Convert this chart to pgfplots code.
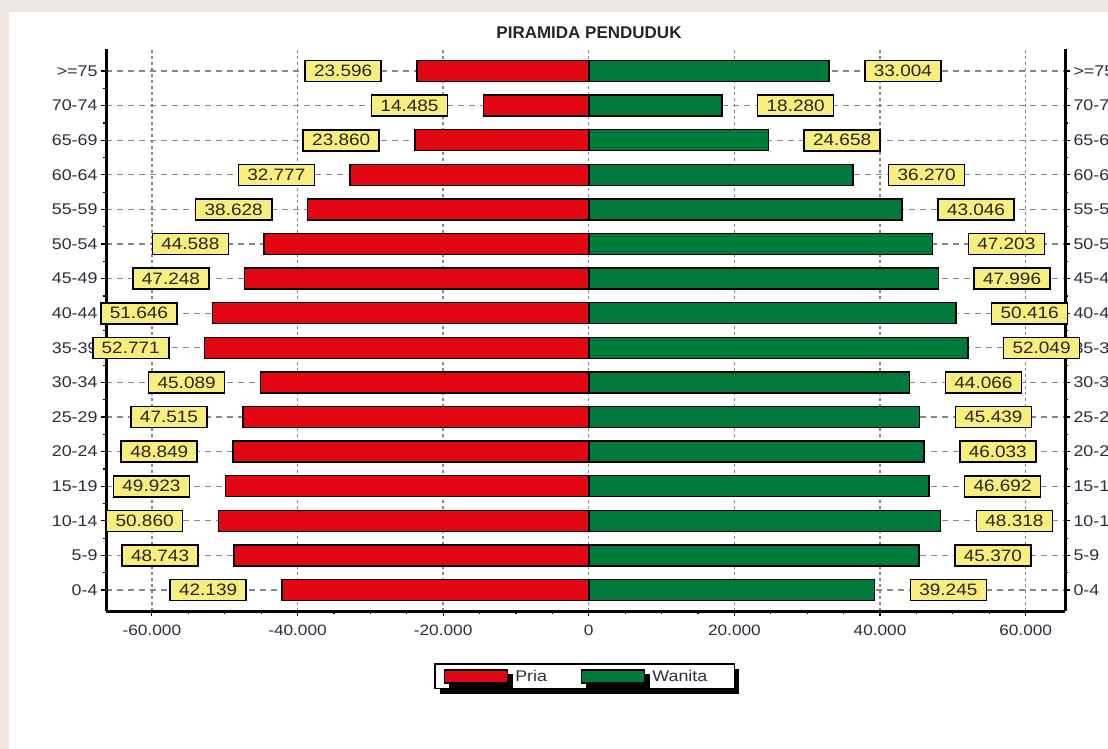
\documentclass[border=0pt]{standalone}
\usepackage{pgfplots}
\pgfplotsset{compat=1.18}
\usepackage{pgfplotstable}
\usepackage{fontspec}
\setmainfont{Liberation Sans}[FakeStretch=1.15]
\newfontfamily\titlefont{Liberation Sans}
\usetikzlibrary{shadows}
\definecolor{pria}{RGB}{227,6,19}
\definecolor{wanita}{RGB}{0,122,61}
\definecolor{boxy}{RGB}{248,238,126}
\definecolor{gridc}{RGB}{135,135,135}
\definecolor{txt}{RGB}{45,45,60}
\definecolor{bgc}{RGB}{236,232,225}

\pgfplotstableread{
y x lab
0 -42139 42.139
1 -48743 48.743
2 -50860 50.860
3 -49923 49.923
4 -48849 48.849
5 -47515 47.515
6 -45089 45.089
7 -52771 52.771
8 -51646 51.646
9 -47248 47.248
10 -44588 44.588
11 -38628 38.628
12 -32777 32.777
13 -23860 23.860
14 -14485 14.485
15 -23596 23.596
}\priatab

\pgfplotstableread{
y x lab
0 39245 39.245
1 45370 45.370
2 48318 48.318
3 46692 46.692
4 46033 46.033
5 45439 45.439
6 44066 44.066
7 52049 52.049
8 50416 50.416
9 47996 47.996
10 47203 47.203
11 43046 43.046
12 36270 36.270
13 24658 24.658
14 18280 18.280
15 33004 33.004
}\wanitatab

\pgfplotsset{
  base/.style={scale only axis, width=959pt, height=562pt,
    at={(106pt,-611pt)}, anchor=south west,
    xmin=-66300, xmax=65400, ymin=-0.607, ymax=15.636,
    scaled x ticks=false},
  ystuff/.style={ytick={0,...,15},
    yticklabels={0-4,5-9,10-14,15-19,20-24,25-29,30-34,35-39,40-44,45-49,50-54,55-59,60-64,65-69,70-74,>=75},
    minor y tick num=1, tick align=outside, major tick length=5pt, minor tick length=3pt,
    tick style={line width=1.2pt, black},
    axis line style={line width=3pt, black, -},
    yticklabel style={font=\fontsize{15.5}{17}\selectfont, text=txt}}
}

\begin{document}
\begin{tikzpicture}
\useasboundingbox (0,0) rectangle (1108pt,-749pt);
\clip (0,0) rectangle (1108pt,-749pt);
\fill[bgc] (0,0) rectangle (1108pt,-749pt);
\fill[white] (9pt,-12pt) rectangle (1108pt,-749pt);

\begin{axis}[base, ystuff,
  axis x line*=bottom, axis y line*=left,
  xtick={-60000,-40000,-20000,0,20000,40000,60000},
  xticklabels={-60.000,-40.000,-20.000,0,20.000,40.000,60.000},
  minor x tick num=3,
  xticklabel style={font=\fontsize{15}{17}\selectfont, text=txt, yshift=-5pt},
  grid=major,
  x grid style={gridc, line width=1.3pt, dash pattern=on 3pt off 3pt},
  y grid style={gridc, line width=1.3pt, dash pattern=on 6pt off 5pt}]
\end{axis}

\begin{axis}[base, ystuff, axis x line=none, axis y line*=right]
\end{axis}

\begin{axis}[base, hide axis, clip=false,
  xbar, bar width=21pt, bar shift=0pt,
  legend columns=2,
  legend image code/.code={\draw[#1] (0pt,-6.5pt) rectangle (63pt,6.5pt);},
  nodes near coords style={fill=boxy, draw=black, line width=1.6pt,
    minimum width=76pt, minimum height=21pt, inner sep=0pt,
    font=\fontsize{16.5}{18}\selectfont, text=black!85},
  legend style={at={(0.499,-0.1165)}, anchor=center, draw=black, line width=1.5pt,
    fill=white, inner xsep=9pt, inner ysep=5pt,
    drop shadow={shadow xshift=5pt, shadow yshift=-5pt, fill=black, opacity=1},
    font=\fontsize{15.5}{17}\selectfont, text=txt,
    nodes={inner sep=0pt},
    /tikz/every odd column/.append style={column sep=7pt},
    /tikz/every even column/.append style={column sep=34pt}}]
\addplot[fill=pria, draw=black, line width=1.5pt, nodes near coords,
  point meta=explicit symbolic,
  every node near coord/.append style={anchor=east, xshift=-35pt}]
  table[x=x, y=y, meta=lab] {\priatab};
\addplot[fill=wanita, draw=black, line width=1.5pt, nodes near coords,
  point meta=explicit symbolic,
  every node near coord/.append style={anchor=west, xshift=35pt}]
  table[x=x, y=y, meta=lab] {\wanitatab};
\legend{Pria, Wanita\kern18pt}
\end{axis}

\node[font={\titlefont\fontsize{17}{19}\bfseries\selectfont}, text=black!85, anchor=base] at (589pt,-39pt) {PIRAMIDA PENDUDUK};
\end{tikzpicture}
\end{document}
